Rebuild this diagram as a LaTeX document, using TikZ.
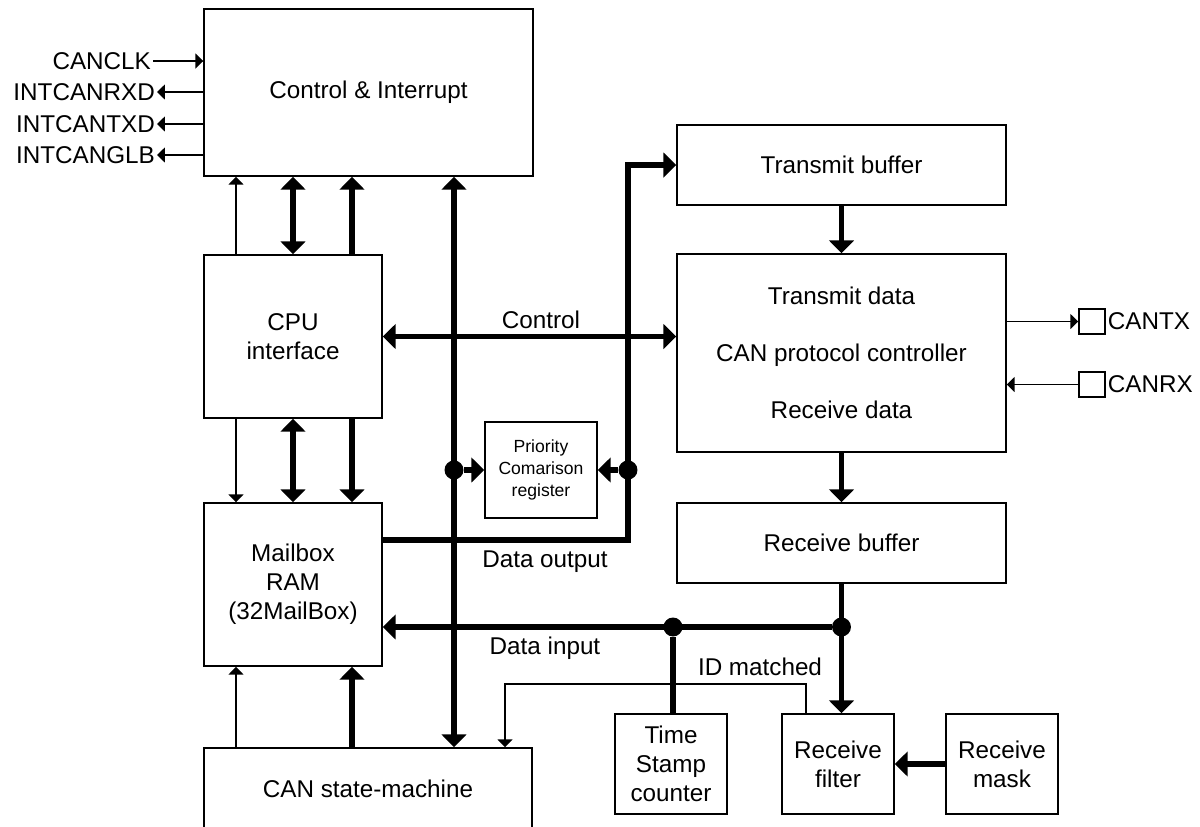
\documentclass[tikz,border=0pt]{standalone}
\usepackage{fontspec}
\setmainfont{Liberation Sans}
\usetikzlibrary{arrows.meta}

\tikzset{
  blk/.style={draw, line width=0.85pt, align=center, inner sep=2pt,
    font=\fontsize{13.8}{16.6}\selectfont},
  small blk/.style={blk, font=\fontsize{10}{12.5}\selectfont},
  pin/.style={draw, line width=0.85pt, minimum width=0.52cm, minimum height=0.5cm, inner sep=0pt},
  lbl/.style={font=\fontsize{13.8}{16.6}\selectfont, inner sep=1pt},
  sig/.style={line width=0.75pt, -{Triangle[width=8.5pt,length=4.5pt]}},
  bus/.style={line width=3.1pt, -{Triangle[width=14pt,length=7.4pt]}},
  dbus/.style={line width=3.1pt, {Triangle[width=14pt,length=7.4pt]}-{Triangle[width=14pt,length=7.4pt]}},
  plainbus/.style={line width=3.1pt},
  tap/.style={circle, fill, inner sep=0pt, minimum size=10.8pt}
}

\begin{document}
\begin{tikzpicture}[x=0.02cm, y=-0.02cm]
    \useasboundingbox (0,0) rectangle (1200,826);
    \clip (0,0) rectangle (1200,826);

    % Blocks, left column
    \node[blk, minimum width=6.58cm, minimum height=3.34cm] (ctrl) at (368.5,92.5) {Control \& Interrupt};
    \node[blk, minimum width=3.56cm, minimum height=3.26cm] (cpu) at (293,336.5) {CPU\\interface};
    \node[blk, minimum width=3.56cm, minimum height=3.26cm] (mbox) at (293,584.5) {Mailbox\\RAM\\(32MailBox)};
    \node[blk, minimum width=6.56cm, minimum height=1.64cm] (fsm) at (368,789) {CAN state-machine};
    \node[small blk, minimum width=2.24cm, minimum height=1.92cm] (prio) at (541,470) {Priority\\Comarison\\register};

    % Blocks, right column
    \node[blk, minimum width=6.58cm, minimum height=3.96cm] (proto) at (841.5,353)
        {Transmit data\\[15.8pt]CAN protocol controller\\[15.8pt]Receive data};
    \node[blk, minimum width=6.58cm, minimum height=1.6cm] (txbuf) at (841.5,165) {Transmit buffer};
    \node[blk, minimum width=6.58cm, minimum height=1.6cm] (rxbuf) at (841.5,543) {Receive buffer};
    \node[blk, minimum width=2.24cm, minimum height=2cm] (ts) at (671,764) {Time\\Stamp\\counter};
    \node[blk, minimum width=2.24cm, minimum height=2cm] (rxf) at (838,764) {Receive\\filter};
    \node[blk, minimum width=2.24cm, minimum height=2cm] (rxm) at (1002,764) {Receive\\mask};

    % Pins
    \node[pin] (txpin) at (1092,321.5) {};
    \node[pin] (rxpin) at (1092,384.5) {};
    \node[lbl, anchor=west] (cantx) at (txpin.east) {CANTX};
    \node[lbl, anchor=west] (canrx) at (rxpin.east) {CANRX};
    \draw[sig] (txpin.west -| proto.east) -- (txpin.west);
    \draw[sig] (rxpin.west) -- (rxpin.west -| proto.east);

    % Interrupt signals
    \node[lbl, anchor=east] (canclk) at (153,61) {CANCLK};
    \node[lbl, anchor=east] (intrx) at (157,92) {INTCANRXD};
    \node[lbl, anchor=east] (inttx) at (157,124) {INTCANTXD};
    \node[lbl, anchor=east] (intglb) at (157,155) {INTCANGLB};
    \draw[sig] (canclk.east) -- (canclk.east -| ctrl.west);
    \draw[sig] (intrx.east -| ctrl.west) -- (intrx.east);
    \draw[sig] (inttx.east -| ctrl.west) -- (inttx.east);
    \draw[sig] (intglb.east -| ctrl.west) -- (intglb.east);

    % Left column links
    \draw[sig] (cpu.north -| 236,0) -- (ctrl.south -| 236,0);
    \draw[dbus] (cpu.north) -- (cpu.north |- ctrl.south);
    \draw[bus] (cpu.north -| 352,0) -- (ctrl.south -| 352,0);
    \draw[sig] (cpu.south -| 236,0) -- (mbox.north -| 236,0);
    \draw[dbus] (cpu.south) -- (mbox.north);
    \draw[bus] (cpu.south -| 352,0) -- (mbox.north -| 352,0);
    \draw[sig] (fsm.north -| 236,0) -- (mbox.south -| 236,0);
    \draw[bus] (fsm.north -| 352,0) -- (mbox.south -| 352,0);

    % Main bus and control
    \draw[dbus] (ctrl.south -| 454,0) -- (fsm.north -| 454,0);
    \draw[dbus] (cpu.east) -- (cpu.east -| proto.west);
    \node[lbl] (ctllbl) at (541,320) {Control};

    % Data output
    \draw[bus] (mbox.east |- 0,540) -| (txbuf.west -| 628,0) -- (txbuf.west);
    \node[lbl] (doutlbl) at (545,562) {Data output};
    \node[tap] (tapl) at (454,470) {};
    \node[tap] (tapr) at (628,470) {};
    \draw[bus] (tapl) -- (tapl -| prio.west);
    \draw[bus] (tapr) -- (tapr -| prio.east);

    % Protocol path
    \draw[bus] (txbuf.south) -- (proto.north);
    \draw[bus] (proto.south) -- (rxbuf.north);
    \draw[bus] (rxbuf.south) -- (rxbuf.south |- rxf.north);
    \node[tap] (taprx) at (rxbuf.south |- 0,627) {};
    \node[tap] (tapts) at (673,627) {};
    \draw[bus] (taprx) -- (taprx -| mbox.east);
    \draw[plainbus] (tapts) -- (tapts |- ts.north);
    \node[lbl] (dinlbl) at (545,648) {Data input};

    % ID matched
    \coordinate (idm) at (505,684);
    \draw[sig] (rxf.north -| 806,0) |- (idm) -- (fsm.north -| idm);
    \node[lbl] (idlbl) at (760,667) {ID matched};

    % Mask
    \draw[bus] (rxm.west) -- (rxf.east);
\end{tikzpicture}
\end{document}
